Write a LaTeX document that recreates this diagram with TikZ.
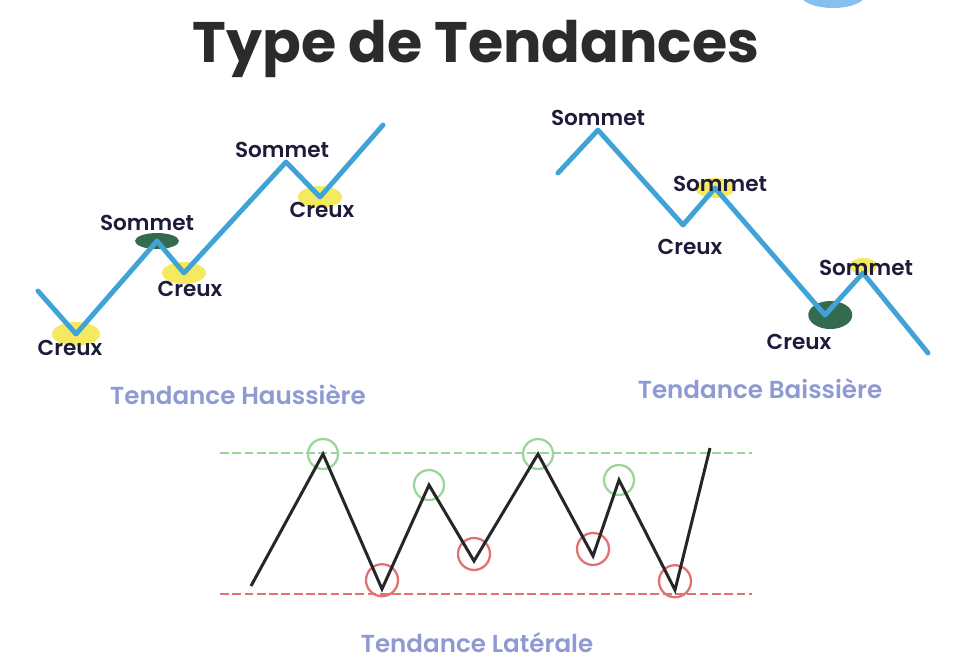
\documentclass[tikz,border=0pt]{standalone}
\usepackage{fontspec}
\setmainfont{Poppins}
\newfontfamily\semi{Poppins SemiBold}
\usepackage{tikz}
\usetikzlibrary{positioning}
\definecolor{bleutrend}{HTML}{3FA3D8}
\definecolor{encre}{HTML}{1C1B3A}
\definecolor{lavande}{HTML}{8E9AD2}
\definecolor{titregris}{HTML}{2B2B2B}
\definecolor{vertfonce}{HTML}{1E5B3B}
\definecolor{jaune}{HTML}{F2E22A}
\definecolor{vertclair}{HTML}{9AD69A}
\definecolor{rougeclair}{HTML}{E07272}
\definecolor{bulle}{HTML}{86C0F0}
\tikzset{
  titre/.style={font=\bfseries\fontsize{32.5}{36}\selectfont,text=titregris,anchor=base},
  trend/.style={draw=bleutrend,line width=2.8pt,line join=round,line cap=round},
  laterale/.style={draw=black!85,line width=1.7pt,line join=miter},
  etiq/.style={font=\semi\fontsize{12.3}{14}\selectfont,text=encre,inner sep=1pt},
  soustitre/.style={font=\semi\fontsize{14}{16}\selectfont,text=lavande},
  halo/.style={fill=jaune,opacity=0.75},
  tache/.style={fill=vertfonce,opacity=0.9},
  niveauh/.style={draw=vertclair,line width=1pt,dash pattern=on 5pt off 2pt},
  niveaub/.style={draw=rougeclair,line width=1pt,dash pattern=on 5pt off 2pt},
  cercleh/.style={draw=vertclair,line width=1.3pt},
  cercleb/.style={draw=rougeclair,line width=1.3pt}
}
\begin{document}
\begin{tikzpicture}[x=0.02cm,y=-0.02cm]
\useasboundingbox (0,0) rectangle (955,667);
\fill[bulle] (833,-6) ellipse (33 and 14);
\node[titre] (titre) at (476,62) {Type de Tendances};

\coordinate (h0) at (38,291);
\coordinate (hc1) at (76,334);
\coordinate (hs1) at (157,241);
\coordinate (hc2) at (184,273);
\coordinate (hs2) at (286,162);
\coordinate (hc3) at (320,197);
\coordinate (h7) at (383,125);
\fill[halo] (hc1) ellipse (24 and 12);
\fill[halo] (hc2) ellipse (22 and 11);
\fill[halo] (hc3) ellipse (22 and 11);
\fill[tache] (hs1) ellipse (22 and 8);
\draw[trend] (h0) -- (hc1) -- (hs1) -- (hc2) -- (hs2) -- (hc3) -- (h7);
\node[etiq] (hlc1) at (70,348) {Creux};
\node[etiq] (hls1) at (147,223) {Sommet};
\node[etiq] (hlc2) at (190,289) {Creux};
\node[etiq] (hls2) at (282,150) {Sommet};
\node[etiq] (hlc3) at (322,210) {Creux};
\node[soustitre] (hausse) at (238,395) {Tendance Haussière};

\coordinate (b0) at (558,173);
\coordinate (bs1) at (598,130);
\coordinate (bc1) at (683,225);
\coordinate (bs2) at (715,188);
\coordinate (bc2) at (825,315);
\coordinate (bs3) at (863,273);
\coordinate (b7) at (928,353);
\fill[halo] (bs2) ellipse (20 and 10);
\fill[halo] ([yshift=4]bs3) ellipse (14 and 8);
\fill[tache] ([xshift=3]bc2) ellipse (22 and 14);
\draw[trend] (b0) -- (bs1) -- (bc1) -- (bs2) -- (bc2) -- (bs3) -- (b7);
\node[etiq] (bls1) at (598,118) {Sommet};
\node[etiq] (bls2) at (720,184) {Sommet};
\node[etiq] (blc1) at (690,247) {Creux};
\node[etiq] (bls3) at (866,268) {Sommet};
\node[etiq] (blc2) at (799,342) {Creux};
\node[soustitre] (baisse) at (760,389) {Tendance Baissière};

\coordinate (l0) at (251,586);
\coordinate (p1) at (323,454);
\coordinate (t1) at (382,589);
\coordinate (p2) at (429,485);
\coordinate (t2) at (474,561);
\coordinate (p3) at (538,454);
\coordinate (t3) at (593,556);
\coordinate (p4) at (619,480);
\coordinate (t4) at (675,590);
\coordinate (l9) at (710,448);
\coordinate (resg) at (220,453);
\coordinate (resd) at (752,453);
\coordinate (supg) at (220,594);
\coordinate (supd) at (752,594);
\draw[niveauh] (resg) -- (resd);
\draw[niveaub] (supg) -- (supd);
\foreach \p in {p1,p2,p3,p4} \draw[cercleh] (\p) circle (15);
\draw[cercleb] ([yshift=5]t1) circle (16);
\draw[cercleb] ([yshift=4]t2) circle (16);
\draw[cercleb] ([yshift=4]t3) circle (16);
\draw[cercleb] ([yshift=5]t4) circle (16);
\draw[laterale] (l0) -- (p1) -- (t1) -- (p2) -- (t2) -- (p3) -- (t3) -- (p4) -- (t4) -- (l9);
\node[soustitre] (laterale) at (477,643) {Tendance Latérale};
\end{tikzpicture}
\end{document}
